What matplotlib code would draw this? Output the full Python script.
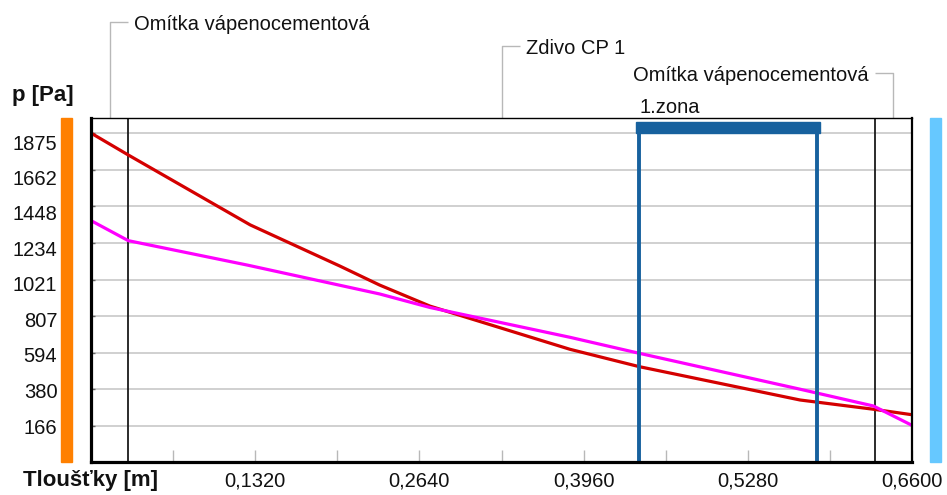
import matplotlib
matplotlib.use('Agg')
import matplotlib.pyplot as plt
from matplotlib.patches import Rectangle
from matplotlib.transforms import blended_transform_factory

plt.rcParams['font.family'] = ['Liberation Sans', 'DejaVu Sans']

# ---------------- data ----------------
layer_bounds = [0.0, 0.03, 0.63, 0.66]
layer_names = ['Omítka vápenocementová', 'Zdivo CP 1', 'Omítka vápenocementová']

# saturated vapour pressure (red)
psat_x = [0.000, 0.030, 0.128, 0.200, 0.232, 0.2725, 0.385, 0.4405, 0.570, 0.629, 0.660]
psat_v = [1876, 1748, 1340, 1100, 989, 866, 614, 513, 318, 264, 232]

# partial vapour pressure (magenta)
p_x = [0.000, 0.030, 0.126, 0.232, 0.2725, 0.385, 0.4405, 0.570, 0.629, 0.660]
p_v = [1365, 1248, 1105, 937, 858, 684, 591, 381, 283, 170]

zone = [0.4405, 0.5834]
zone_label = '1.zona'

yticks = [166, 380, 594, 807, 1021, 1234, 1448, 1662, 1875]
ytick_labels = ['166', '380', '594', '807', '1021', '1234', '1448', '1662', '1875']
xticks = [0.066, 0.132, 0.198, 0.264, 0.330, 0.396, 0.462, 0.528, 0.594, 0.660]
xtick_labels = ['', '0,1320', '', '0,2640', '', '0,3960', '', '0,5280', '', '0,6600']

ylabel = 'p [Pa]'
xlabel = 'Tloušťky [m]'

# ---------------- figure ----------------
W, H = 947, 495
fig = plt.figure(figsize=(W / 100, H / 100), dpi=100)
ax = fig.add_axes([91 / W, 1 - 461.5 / H, 821 / W, (461.5 - 118) / H])
ax.set_xlim(0, 0.66)
ax.set_ylim(-41, 1964)

FS = 14.5
for y in yticks:
    ax.axhline(y, color='#d0d0d0', lw=1.4, zorder=1)

for b in layer_bounds[1:-1]:
    ax.axvline(b, color='#1a1a1a', lw=1.3, zorder=2)

ax.plot(psat_x, psat_v, color='#d40000', lw=2.3, zorder=3, solid_capstyle='butt')
ax.plot(p_x, p_v, color='#ff00ff', lw=2.3, zorder=3, solid_capstyle='butt')

zone_col = '#17619e'
ax.vlines(zone, -41, yticks[-1], color=zone_col, lw=2.8, zorder=4)
ppd = ax.transData.transform((1, 0))[0] - ax.transData.transform((0, 0))[0]
dx = 3.0 / ppd
ax.add_patch(Rectangle((zone[0] - dx, yticks[-1]), zone[1] - zone[0] + 2 * dx, 68,
                       color=zone_col, zorder=5, clip_on=False))

for side, lw in [('left', 2.3), ('bottom', 2.3), ('top', 1.0), ('right', 1.6)]:
    ax.spines[side].set_linewidth(lw)
    ax.spines[side].set_color('black')
    ax.spines[side].set_zorder(6)

ax.set_yticks(yticks)
ax.set_yticklabels([])
ax.tick_params(axis='y', direction='in', length=3, width=1, color='#666666')
ax.set_xticks(xticks)
ax.set_xticklabels(xtick_labels)
ax.tick_params(axis='x', direction='in', length=8.5, width=1, color='#b8b8b8',
               pad=7.5, labelsize=FS, labelcolor='#111111')

# y tick labels (slightly compressed spacing as in original)
tr_y = blended_transform_factory(ax.transAxes, ax.transData)
for v, lab in zip(yticks, ytick_labels):
    vl = yticks[0] + (v - yticks[0]) * 0.970
    ax.text(-0.041, vl, lab, transform=tr_y, ha='right', va='center_baseline',
            fontsize=FS, color='#111111', clip_on=False)

# side bars
ax.add_patch(Rectangle((-0.0369, 0), 0.0141, 1, transform=ax.transAxes,
                       color='#ff8000', clip_on=False, zorder=1))
ax.add_patch(Rectangle((1.0219, 0), 0.013, 1, transform=ax.transAxes,
                       color='#66c8ff', clip_on=False, zorder=1))

# layer leaders and names
tr_l = blended_transform_factory(ax.transData, fig.transFigure)
top_fig = 1 - 118 / H
leader_px = [21.7, 46.0, 72.7]
sides = [1, 1, -1]
for i, name in enumerate(layer_names):
    mid = (layer_bounds[i] + layer_bounds[i + 1]) / 2
    yl = 1 - leader_px[i] / H
    s = sides[i]
    ax.plot([mid, mid, mid + s * 18 / ppd], [top_fig, yl, yl], transform=tr_l,
            color='#b8b8b8', lw=1.0, clip_on=False, solid_capstyle='butt')
    ax.text(mid + s * 24.5 / ppd, 1 - (leader_px[i] + 0.8) / H, name, transform=tr_l,
            ha='left' if s > 0 else 'right', va='center_baseline', fontsize=FS,
            color='#111111', clip_on=False)

ax.text(zone[0] + 1 / ppd, 1 - 105.8 / H, zone_label, transform=tr_l, ha='left',
        va='center_baseline', fontsize=FS, color='#111111', clip_on=False)

fig.text(12 / W, 1 - 93 / H, ylabel, ha='left', va='center_baseline', fontsize=16,
         fontweight='bold', color='#111111')
fig.text(22.7 / W, 1 - 478.3 / H, xlabel, ha='left', va='center_baseline', fontsize=16,
         fontweight='bold', color='#111111')

fig.savefig('out.png', dpi=100)
